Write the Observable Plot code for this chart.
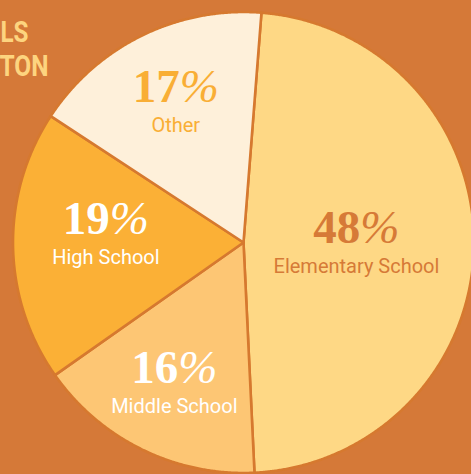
<!DOCTYPE html>
<html><head><meta charset="utf-8">
<script src="https://cdn.jsdelivr.net/npm/d3@7"></script>
<script src="https://cdn.jsdelivr.net/npm/@observablehq/plot@0.6"></script>
<style>
html,body{margin:0;padding:0;background:#D57938;overflow:hidden;}
#chart svg{background:transparent !important;display:block;}
</style></head><body><div id="chart"></div>
<script>
// ---- data ----
const categories = ["Elementary School", "Middle School", "High School", "Other"];
const shares = [48, 16, 19, 17];
const percentLabels = ["48%", "16%", "19%", "17%"];
const titleFragments = ["LS", "TON"];

// ---- layout & style ----
const W = 471, H = 474;
const cx = 243, cy = 242, R = 230.5;
const startAngle = 0.078;
const fills = {"Elementary School": "#FED885", "Middle School": "#FDC674", "High School": "#FBB036", "Other": "#FEF0DA"};
const textColors = {"Elementary School": "#D67A37", "Middle School": "#FFFFFF", "High School": "#FFFFFF", "Other": "#F9AE35"};
const labelLayout = {
  "Elementary School": {k: 0.49, dy: 0},
  "Middle School": {k: 0.683, dy: 0},
  "High School": {k: 0.597, dy: -9.5},
  "Other": {k: 0.667, dy: -1.5}
};
const borderColor = "#D6792F";

const table = categories.map((c, i) => ({category: c, share: shares[i], pct: percentLabels[i]}));
const arcs = d3.pie().sort(null).value(d => d.share)
  .startAngle(startAngle).endAngle(startAngle + 2 * Math.PI)(table);

// polygon outline for each slice (unit radius)
const slicePoints = arcs.flatMap(a => {
  const n = Math.max(2, Math.ceil((a.endAngle - a.startAngle) / 0.005));
  const pts = [{category: a.data.category, x: 0, y: 0}];
  for (let j = 0; j <= n; j++) {
    const t = a.startAngle + (a.endAngle - a.startAngle) * j / n;
    pts.push({category: a.data.category, x: Math.sin(t), y: Math.cos(t)});
  }
  pts.push({category: a.data.category, x: 0, y: 0});
  return pts;
});

const labelData = arcs.map(a => {
  const mid = (a.startAngle + a.endAngle) / 2;
  const L = labelLayout[a.data.category];
  return {category: a.data.category, pct: a.data.pct,
          x: L.k * Math.sin(mid), y: L.k * Math.cos(mid) - L.dy / R};
});

const textMarks = categories.flatMap(c => {
  const d = labelData.filter(l => l.category === c);
  return [
    Plot.text(d, {x: "x", y: "y", text: "pct", fill: textColors[c], fontSize: 47,
      fontFamily: "Liberation Serif, DejaVu Serif, serif", fontWeight: "bold",
      lineAnchor: "bottom", dy: -1}),
    Plot.text(d, {x: "x", y: "y", text: "category", fill: textColors[c], fontSize: 20,
      fontFamily: "Roboto, Liberation Sans, sans-serif", lineAnchor: "bottom", dy: 29,
      letterSpacing: "0.45px"})
  ];
});

const chart = Plot.plot({
  width: W, height: H,
  margin: 0,
  style: {background: "transparent", overflow: "visible"},
  x: {domain: [-1, 1], range: [cx - R, cx + R], axis: null},
  y: {domain: [-1, 1], range: [cy + R, cy - R], axis: null},
  color: {domain: categories, range: categories.map(c => fills[c])},
  marks: [
    Plot.line(slicePoints, {x: "x", y: "y", z: "category", fill: "category",
      stroke: borderColor, strokeWidth: 2.6, curve: "linear"}),
    ...textMarks,
    Plot.text([titleFragments[0]], {text: d => d, frameAnchor: "top-left", dx: 28, dy: 41,
      textAnchor: "end", lineAnchor: "bottom", fill: "#FDD47F", fontSize: 29,
      fontWeight: "bold", fontFamily: "Roboto, sans-serif"}),
    Plot.text([titleFragments[1]], {text: d => d, frameAnchor: "top-left", dx: 48, dy: 75,
      textAnchor: "end", lineAnchor: "bottom", fill: "#FDD47F", fontSize: 29,
      fontWeight: "bold", fontFamily: "Roboto, sans-serif"})
  ]
});

document.getElementById("chart").append(chart);

// style tweaks: italic percent sign, condensed title fragments
d3.select(chart).selectAll("text").each(function () {
  const t = this.textContent;
  if (/^\d+%$/.test(t)) {
    const sel = d3.select(this);
    sel.text(null);
    sel.append("tspan").text(t.slice(0, -1));
    sel.append("tspan").attr("font-style", "italic").attr("font-weight", "normal").text("%");
  } else if (t === titleFragments[0]) {
    d3.select(this).attr("textLength", 28).attr("lengthAdjust", "spacingAndGlyphs");
  } else if (t === titleFragments[1]) {
    d3.select(this).attr("textLength", 49).attr("lengthAdjust", "spacingAndGlyphs");
  }
});
</script></body></html>
